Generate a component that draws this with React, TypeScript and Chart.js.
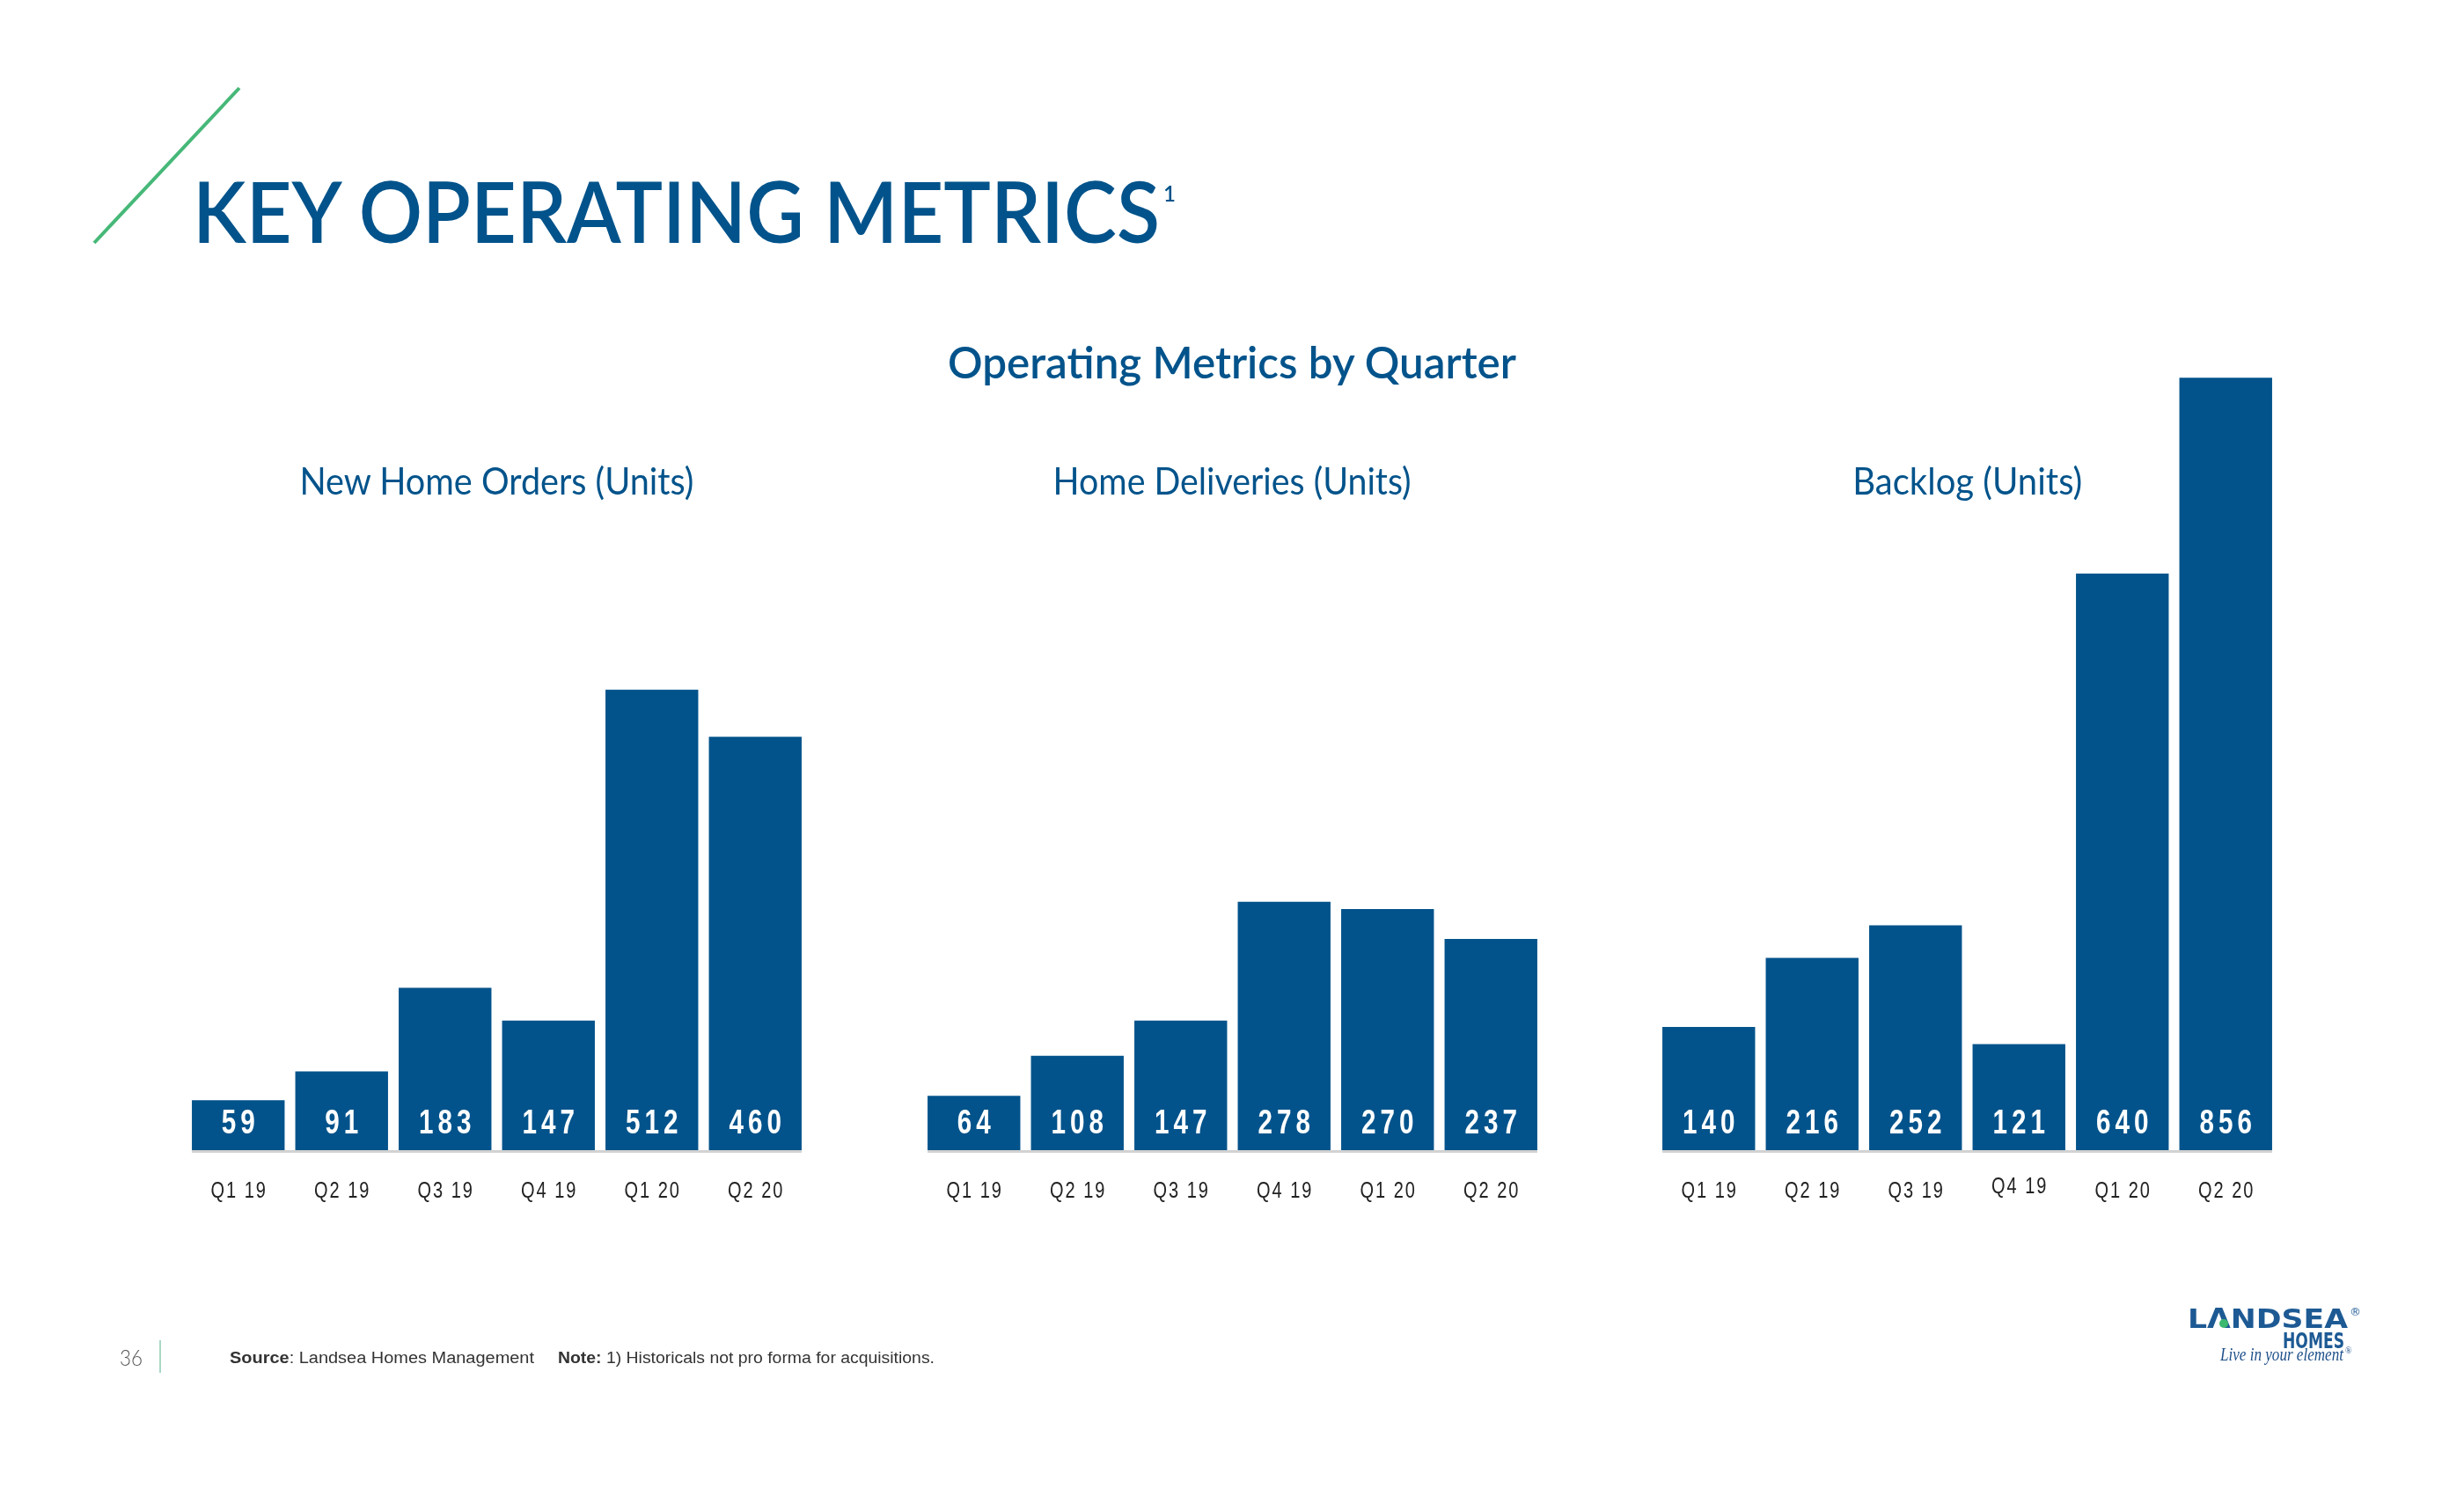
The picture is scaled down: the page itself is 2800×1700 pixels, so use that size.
import React, { useEffect, useRef } from "react";
import { Chart, registerables } from "chart.js";

Chart.register(...registerables);

// ---- data ----
const quarters = ["Q1 19", "Q2 19", "Q3 19", "Q4 19", "Q1 20", "Q2 20"];
const newHomeOrders = [59, 91, 183, 147, 512, 460];
const homeDeliveries = [64, 108, 147, 278, 270, 237];
const backlog = [140, 216, 252, 121, 640, 856];
const panelTitles = ["New Home Orders (Units)", "Home Deliveries (Units)", "Backlog (Units)"];

const BLUE = "#02538B";
const Y_MIN = 4;
const Y_MAX = 900;

// layout constants (not data)
const PANEL_WIDTH = 705;
const AREA_TOP = 384;
const AREA_HEIGHT = 923;
const BOTTOM_PAD = 90;

type PanelProps = { values: number[]; left: number; lift?: number[] };

function BarPanel({ values, left, lift }: PanelProps) {
  const ref = useRef<HTMLCanvasElement | null>(null);

  useEffect(() => {
    const canvas = ref.current;
    if (!canvas) return;
    const decor = {
      id: "panelDecor",
      afterDatasetsDraw(chart: any) {
        const ctx: CanvasRenderingContext2D = chart.ctx;
        const area = chart.chartArea;
        const meta = chart.getDatasetMeta(0);
        const bars: any[] = meta.data;
        if (!bars.length) return;
        const first = bars[0];
        const last = bars[bars.length - 1];
        const x0 = first.x - first.width / 2;
        const x1 = last.x + last.width / 2;
        // light baseline under the bars
        ctx.save();
        ctx.fillStyle = "#d2d2d2";
        ctx.fillRect(x0, area.bottom, x1 - x0, 3);
        ctx.restore();
        // value labels inside bars
        bars.forEach((el: any, i: number) => {
          ctx.save();
          ctx.translate(el.x, area.bottom - 19);
          ctx.scale(0.78, 1);
          ctx.font = 'bold 38px "Liberation Sans", Arial, sans-serif';
          (ctx as any).letterSpacing = "6.4px";
          ctx.textAlign = "center";
          ctx.textBaseline = "alphabetic";
          ctx.fillStyle = "#ffffff";
          ctx.fillText(String(values[i]), 3.2, 0);
          ctx.restore();
        });
        // category labels under the axis
        const xs = chart.scales.x;
        quarters.forEach((q, i) => {
          const px = xs.getPixelForValue(i);
          const dy = lift ? lift[i] : 0;
          ctx.save();
          ctx.translate(px, area.bottom + 54 - dy);
          ctx.scale(0.8, 1);
          ctx.font = '25px "Liberation Sans", Arial, sans-serif';
          (ctx as any).letterSpacing = "2.5px";
          ctx.textAlign = "center";
          ctx.textBaseline = "alphabetic";
          ctx.fillStyle = "#222222";
          ctx.fillText(q, 1.25, 0);
          ctx.restore();
        });
      },
    };

    const chart = new Chart(canvas, {
      type: "bar",
      data: {
        labels: quarters,
        datasets: [
          {
            data: values,
            backgroundColor: BLUE,
            borderWidth: 0,
            categoryPercentage: 1,
            barPercentage: 0.897,
          },
        ],
      },
      options: {
        responsive: false,
        animation: false,
        devicePixelRatio: 1,
        layout: { padding: { top: 0, left: 0, right: 0, bottom: BOTTOM_PAD } },
        plugins: { legend: { display: false }, tooltip: { enabled: false }, title: { display: false } },
        scales: {
          x: { display: false, offset: true },
          y: { display: false, min: Y_MIN, max: Y_MAX },
        },
      },
      plugins: [decor],
    });
    return () => chart.destroy();
  }, [values, left, lift]);

  return (
    <canvas
      ref={ref}
      width={PANEL_WIDTH}
      height={AREA_HEIGHT + BOTTOM_PAD}
      style={{
        position: "absolute",
        left,
        top: AREA_TOP,
        width: PANEL_WIDTH,
        height: AREA_HEIGHT + BOTTOM_PAD,
      }}
    />
  );
}

const panelLefts = [211.9, 1047.6, 1883.3];
const panelCenters = panelLefts.map((l) => l + PANEL_WIDTH / 2);
const subtitleWidths = [448, 407, 261];

export default function App() {
  return (
    <div
      style={{
        position: "fixed",
        left: 0,
        top: 0,
        width: 2800,
        height: 1700,
        background: "#ffffff",
        overflow: "hidden",
      }}
    >
      <BarPanel values={newHomeOrders} left={panelLefts[0]} />
      <BarPanel values={homeDeliveries} left={panelLefts[1]} />
      <BarPanel values={backlog} left={panelLefts[2]} lift={[0, 0, 0, 5, 0, 0]} />

      <svg
        width={2800}
        height={1700}
        style={{ position: "absolute", left: 0, top: 0, pointerEvents: "none" }}
      >
        <line x1={107} y1={276} x2={272} y2={100} stroke="#46B878" strokeWidth={4} />
        <text
          x={219}
          y={276}
          fontFamily="Lato, 'Noto Sans', sans-serif"
          fontWeight={600}
          fontSize={97}
          fill={BLUE}
          textLength={1099}
          lengthAdjust="spacingAndGlyphs"
        >
          KEY OPERATING METRICS
        </text>
        <text x={1322} y={229} fontFamily="Lato, sans-serif" fontWeight={600} fontSize={24} fill={BLUE}>
          1
        </text>

        <text
          x={1400}
          y={430}
          textAnchor="middle"
          fontFamily="Lato, 'Noto Sans', sans-serif"
          fontWeight={600}
          fontSize={50}
          fill={BLUE}
          textLength={646}
          lengthAdjust="spacingAndGlyphs"
        >
          Operating Metrics by Quarter
        </text>

        {panelTitles.map((t, i) => (
          <text
            key={t}
            x={panelCenters[i]}
            y={562}
            textAnchor="middle"
            fontFamily="Lato, 'Noto Sans', sans-serif"
            fontSize={42}
            fill={BLUE}
            textLength={subtitleWidths[i]}
            lengthAdjust="spacingAndGlyphs"
          >
            {t}
          </text>
        ))}

        {/* footer */}
        <text
          x={136}
          y={1552}
          fontFamily="Lato, sans-serif"
          fontWeight={300}
          fontSize={25}
          fill="#555555"
          textLength={26}
          lengthAdjust="spacingAndGlyphs"
        >
          36
        </text>
        <line x1={182} y1={1523} x2={182} y2={1560} stroke="#8ccbb0" strokeWidth={1.5} />
        <text
          x={261}
          y={1549}
          fontFamily="'Liberation Sans', Arial, sans-serif"
          fontSize={18}
          fill="#333333"
          textLength={346}
          lengthAdjust="spacingAndGlyphs"
        >
          <tspan fontWeight="bold">Source</tspan>: Landsea Homes Management
        </text>
        <text
          x={634}
          y={1549}
          fontFamily="'Liberation Sans', Arial, sans-serif"
          fontSize={18}
          fill="#333333"
          textLength={428}
          lengthAdjust="spacingAndGlyphs"
        >
          <tspan fontWeight="bold">Note:</tspan> 1) Historicals not pro forma for acquisitions.
        </text>

        {/* logo */}
        <text
          x={2486}
          y={1509}
          fontFamily="'DejaVu Sans', sans-serif"
          fontWeight="bold"
          fontSize={31}
          fill="#1D5A94"
          textLength={182}
          lengthAdjust="spacingAndGlyphs"
        >
          LΛNDSEA
        </text>
        <circle cx={2527} cy={1504} r={5} fill="#3DB86F" />
        <text x={2670} y={1495} fontFamily="'DejaVu Sans', sans-serif" fontSize={13} fill="#1D5A94">
          ®
        </text>
        <text
          x={2664}
          y={1532}
          textAnchor="end"
          fontFamily="'DejaVu Sans', sans-serif"
          fontWeight="bold"
          fontSize={24}
          fill="#1D5A94"
          textLength={70}
          lengthAdjust="spacingAndGlyphs"
        >
          HOMES
        </text>
        <text
          x={2523}
          y={1546}
          fontFamily="'Liberation Serif', serif"
          fontStyle="italic"
          fontSize={20}
          fill="#1D4F8A"
          textLength={140}
          lengthAdjust="spacingAndGlyphs"
        >
          Live in your element
        </text>
        <text x={2665} y={1538} fontFamily="'Liberation Serif', serif" fontSize={10} fill="#1D4F8A">
          ®
        </text>
      </svg>
    </div>
  );
}
